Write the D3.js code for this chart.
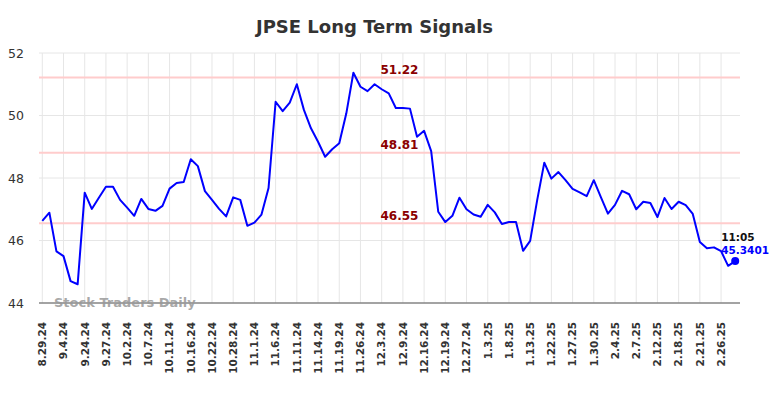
<!DOCTYPE html>
<html>
<head>
<meta charset="utf-8">
<script src="https://cdn.jsdelivr.net/npm/d3@7"></script>
<style>
  body { margin: 0; background: #fff; }
  svg { display: block; font-family: "DejaVu Sans", sans-serif; }
</style>
</head>
<body>
<svg width="784" height="398"></svg>
<script>
// labels under every third point
const tickLabels = [
  "8.29.24", "9.4.24", "9.24.24", "9.27.24", "10.2.24", "10.7.24", "10.11.24",
  "10.16.24", "10.22.24", "10.28.24", "11.1.24", "11.6.24", "11.11.24", "11.14.24",
  "11.19.24", "11.26.24", "12.3.24", "12.9.24", "12.16.24", "12.19.24", "12.27.24",
  "1.3.25", "1.8.25", "1.13.25", "1.22.25", "1.27.25", "1.30.25", "2.4.25",
  "2.7.25", "2.12.25", "2.18.25", "2.21.25", "2.26.25"
];

const prices = [
  46.63, 46.89, 45.65, 45.50, 44.70, 44.60, 47.53, 47.01, 47.37, 47.72,
  47.72, 47.30, 47.05, 46.79, 47.33, 47.01, 46.95, 47.11, 47.66, 47.84,
  47.87, 48.60, 48.38, 47.58, 47.30, 47.01, 46.77, 47.38, 47.30, 46.47,
  46.57, 46.83, 47.68, 50.44, 50.14, 50.41, 51.00, 50.18, 49.59, 49.16,
  48.68, 48.92, 49.11, 50.07, 51.37, 50.92, 50.78, 51.00, 50.84, 50.71,
  50.24, 50.24, 50.22, 49.32, 49.51, 48.86, 46.92, 46.59, 46.79, 47.37,
  47.00, 46.83, 46.76, 47.14, 46.90, 46.53, 46.59, 46.59, 45.67, 45.99,
  47.30, 48.49, 47.98, 48.19, 47.93, 47.65, 47.54, 47.42, 47.93, 47.39,
  46.86, 47.14, 47.59, 47.48, 47.00, 47.24, 47.20, 46.75, 47.36, 47.01,
  47.24, 47.13, 46.85, 45.95, 45.75, 45.78, 45.66, 45.19, 45.3401
];

const signalLevels = [51.22, 48.81, 46.55];
const yTicks = [44, 46, 48, 50, 52];
const lastTime = "11:05";
const lastPrice = "45.3401";

const svg = d3.select("svg");
const plotLeft = 39, plotRight = 740, plotTop = 53, plotBottom = 303;

const x = d3.scaleLinear().domain([0, prices.length - 1]).range([42.3, 735.2]);
const y = d3.scaleLinear().domain([44, 52]).range([plotBottom, plotTop]);

const tickIndex = tickLabels.map((d, i) => i * 3);

// title
svg.append("text")
  .attr("x", 374.5).attr("y", 33)
  .attr("text-anchor", "middle")
  .attr("font-size", 18).attr("font-weight", "bold")
  .attr("fill", "#333")
  .text("JPSE Long Term Signals");

// grid
const grid = svg.append("g");
grid.selectAll("line.h").data(yTicks).enter().append("line")
  .attr("x1", plotLeft).attr("x2", plotRight)
  .attr("y1", (d) => y(d)).attr("y2", (d) => y(d))
  .attr("stroke", "#e6e6e6").attr("stroke-width", 1);
grid.selectAll("line.v").data(tickIndex).enter().append("line")
  .attr("x1", (d) => x(d)).attr("x2", (d) => x(d))
  .attr("y1", plotTop).attr("y2", plotBottom)
  .attr("stroke", "#e6e6e6").attr("stroke-width", 1);

// y labels
svg.append("g").selectAll("text").data(yTicks).enter().append("text")
  .attr("x", 24).attr("y", (d) => y(d))
  .attr("dy", "0.36em")
  .attr("text-anchor", "end")
  .attr("font-size", 12.5)
  .attr("fill", "#333")
  .text((d) => d);

// x labels
svg.append("g").selectAll("text").data(tickIndex).enter().append("text")
  .attr("transform", (d) => "translate(" + x(d) + ",322) rotate(-90)")
  .attr("dy", "0.36em")
  .attr("text-anchor", "end")
  .attr("font-size", 10.5).attr("font-weight", "bold")
  .attr("fill", "#333")
  .text((d, i) => tickLabels[i]);

// signal levels
svg.append("g").selectAll("line").data(signalLevels).enter().append("line")
  .attr("x1", plotLeft).attr("x2", plotRight)
  .attr("y1", (d) => y(d)).attr("y2", (d) => y(d))
  .attr("stroke", "#ffcccc").attr("stroke-width", 2);

svg.append("g").selectAll("text").data(signalLevels).enter().append("text")
  .attr("x", 399.5).attr("y", (d) => y(d) - 3.5)
  .attr("text-anchor", "middle")
  .attr("font-size", 12).attr("font-weight", "bold")
  .attr("fill", "#8b0000")
  .text((d) => d.toFixed(2));

// x axis line
svg.append("line")
  .attr("x1", plotLeft).attr("x2", plotRight)
  .attr("y1", plotBottom).attr("y2", plotBottom)
  .attr("stroke", "#555").attr("stroke-width", 1.2);

// watermark
svg.append("text")
  .attr("x", 54).attr("y", 307)
  .attr("font-size", 13).attr("font-weight", "bold")
  .attr("fill", "#999").attr("fill-opacity", 0.85)
  .text("Stock Traders Daily");

// price line
const line = d3.line().x((d, i) => x(i)).y((d) => y(d));
svg.append("path")
  .datum(prices)
  .attr("d", line)
  .attr("fill", "none")
  .attr("stroke", "#0000ff")
  .attr("stroke-width", 2)
  .attr("stroke-linejoin", "round");

// last point
const lastI = prices.length - 1;
svg.append("circle")
  .attr("cx", x(lastI)).attr("cy", y(prices[lastI]))
  .attr("r", 4).attr("fill", "#0000ff");

svg.append("text")
  .attr("x", x(lastI) - 14).attr("y", 241)
  .attr("font-size", 10.5).attr("font-weight", "bold")
  .attr("fill", "#111")
  .text(lastTime);
svg.append("text")
  .attr("x", x(lastI) - 14).attr("y", 254)
  .attr("font-size", 10.5).attr("font-weight", "bold")
  .attr("fill", "#0000ff")
  .text(lastPrice);
</script>
</body>
</html>
